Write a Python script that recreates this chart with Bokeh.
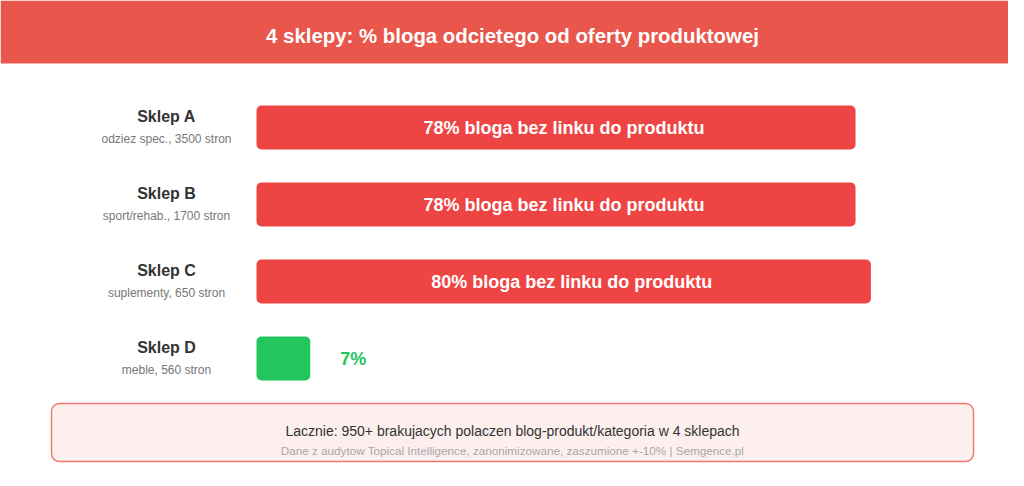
from bokeh.plotting import figure
from bokeh.models import Range1d, ColumnDataSource
from bokeh.core.properties import value
from bokeh.embed import file_html
from bokeh.resources import INLINE

title = "4 sklepy: % bloga odcietego od oferty produktowej"
shops = ["Sklep A", "Sklep B", "Sklep C", "Sklep D"]
details = ["odziez spec., 3500 stron", "sport/rehab., 1700 stron", "suplementy, 650 stron", "meble, 560 stron"]
pct = [78, 78, 80, 7]
summary = "Lacznie: 950+ brakujacych polaczen blog-produkt/kategoria w 4 sklepach"
source_note = "Dane z audytow Topical Intelligence, zanonimizowane, zaszumione +-10% | Semgence.pl"

FONT = "Liberation Sans"
W, H = 1008, 470

# main ranges: reference pixel coordinates
p = figure(width=W, height=H, output_backend="svg", toolbar_location=None,
           x_range=Range1d(0, W), y_range=Range1d(H, 0),
           min_border=0, outline_line_color=None, background_fill_color="white")
p.axis.visible = False
p.grid.visible = False

# percent scale for bars: 0% at px 256, 100% at px 1024
x0, pxper = 256.0, 7.68
p.extra_x_ranges = {"pct": Range1d((0 - x0) / pxper, (W - x0) / pxper)}
# row scale: row i centred at px 127 + 77*i
r0, rstep = 127.0, 77.0
p.extra_y_ranges = {"row": Range1d((H - r0) / rstep, (0 - r0) / rstep)}

# banner
p.quad(left=0, right=W, top=0, bottom=63, fill_color="#E9564B", line_color=None)
p.text(x=[512], y=[35], text=[title], text_color="white", text_font=value(FONT),
       text_font_size="20.4px", text_font_style="bold", text_align="center", text_baseline="middle")

rows = list(range(len(shops)))
colors = ["#22C55E" if v < 20 else "#EF4444" for v in pct]
src = ColumnDataSource(dict(y=rows, right=pct, color=colors))
p.hbar(y="y", left=0, right="right", height=44 / rstep, fill_color="color", line_color=None,
       border_radius=5, source=src, x_range_name="pct", y_range_name="row")

inside = [i for i, v in enumerate(pct) if v >= 20]
outside = [i for i, v in enumerate(pct) if v < 20]
p.text(x=[pct[i] / 2 for i in inside], y=[rows[i] for i in inside],
       text=[f"{pct[i]}% bloga bez linku do produktu" for i in inside], x_offset=8,
       text_color="white", text_font=value(FONT), text_font_size="18px", text_font_style="bold",
       text_align="center", text_baseline="middle", x_range_name="pct", y_range_name="row")
p.text(x=[pct[i] for i in outside], y=[rows[i] for i in outside],
       text=[f"{pct[i]}%" for i in outside], x_offset=30,
       text_color="#22C55E", text_font=value(FONT), text_font_size="18px", text_font_style="bold",
       text_align="left", text_baseline="middle", x_range_name="pct", y_range_name="row")

# shop labels
p.text(x=[166] * len(shops), y=[r - 0.145 for r in rows], text=shops, text_color="#333333",
       text_font=value(FONT), text_font_size="16px", text_font_style="bold",
       text_align="center", text_baseline="middle", y_range_name="row")
p.text(x=[166] * len(shops), y=[r + 0.155 for r in rows], text=details, text_color="#777777",
       text_font=value(FONT), text_font_size="12px",
       text_align="center", text_baseline="middle", y_range_name="row")

# footer box
p.quad(left=51, right=973, top=403, bottom=461, fill_color="#FDEFEE", line_color="#F27A70",
       line_width=1.5, border_radius=8)
p.text(x=[512], y=[430], text=[summary], text_color="#333333", text_font=value(FONT),
       text_font_size="14px", text_align="center", text_baseline="middle")
p.text(x=[512], y=[450], text=[source_note], text_color="#A8A8A8", text_font=value(FONT),
       text_font_size="11.7px", text_align="center", text_baseline="middle")

open("out.html", "w").write(file_html(p, INLINE))
